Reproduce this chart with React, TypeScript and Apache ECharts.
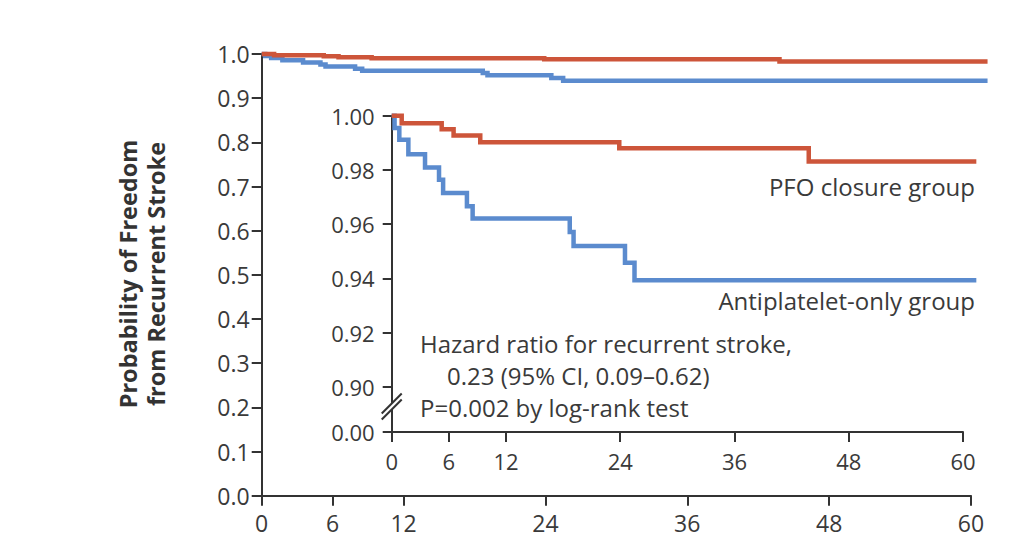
import React, { useEffect, useRef } from "react";
import * as echarts from "echarts";

// ---- data ----
const monthTicks = [0, 6, 12, 24, 36, 48, 60];
const insetYTicks = [0.8834, 0.9, 0.92, 0.94, 0.96, 0.98, 1.0];
const insetYLabels = ["0.00", "0.90", "0.92", "0.94", "0.96", "0.98", "1.00"];

const pfoMonths = [0, 1.05, 5.25, 6.5, 9.3, 23.9, 43.8, 61.4];
const pfoSurvival = [1.0, 0.9972, 0.995, 0.9927, 0.9902, 0.988, 0.9831, 0.9831];

const antiMonths = [0, 0.3, 0.8, 1.75, 3.5, 4.97, 5.4, 7.9, 8.5, 18.7, 19.1, 24.5, 25.5, 61.4];
const antiSurvival = [1.0, 0.9955, 0.9911, 0.9858, 0.9809, 0.9764, 0.9715, 0.9666, 0.9621, 0.9571, 0.952, 0.9458, 0.9393, 0.9393];

const yTitleLines = ["Probability of Freedom", "from Recurrent Stroke"];
const pfoLabel = "PFO closure group";
const antiLabel = "Antiplatelet-only group";
const statLines = [
  "Hazard ratio for recurrent stroke,",
  "0.23 (95% CI, 0.09\u20130.62)",
  "P=0.002 by log-rank test",
];

const RED = "#CD553A";
const BLUE = "#5B8BCE";
const AXIS = "#333333";
const TEXT = "#3a3a3a";
const FONT = "'Open Sans', 'Noto Sans', sans-serif";

const zip = (xs: number[], ys: number[]) => xs.map((x, i) => [x, ys[i]]);

export default function App() {
  const ref = useRef<HTMLDivElement>(null);

  useEffect(() => {
    if (!ref.current) return;
    const chart = echarts.init(ref.current, undefined, { renderer: "svg" });

    const axisLine = { show: true, lineStyle: { color: AXIS, width: 2 } };
    const tickStyle = { color: AXIS, width: 2 };
    const labelBase = { color: TEXT, fontFamily: FONT, fontSize: 23 };
    const axisMax = 60;
    const dataMax = Math.max(pfoMonths[pfoMonths.length - 1], antiMonths[antiMonths.length - 1]);

    const mainGrid = { left: 261.7, top: 54, width: 709.3, height: 441.7 };
    const insetGrid = { left: 391.7, top: 115.7, width: 571.3, height: 316.3 };
    // curve grids share the same scale but extend past month 60 so the tails are not clipped
    const widen = (g: any) => ({ ...g, width: (g.width * dataMax) / axisMax });

    const hiddenX = (gi: number) => ({
      type: "value",
      gridIndex: gi,
      min: 0,
      max: dataMax,
      show: false,
    });

    const lineSeries = (name: string, data: number[][], color: string, gi: number, z: number) => ({
      name,
      type: "line",
      xAxisIndex: gi,
      yAxisIndex: gi,
      data,
      step: "end",
      symbol: "none",
      clip: false,
      z,
      lineStyle: { color, width: 4.5, cap: "butt", join: "miter" },
    });

    chart.setOption({
      animation: false,
      backgroundColor: "#ffffff",
      grid: [mainGrid, insetGrid, widen(mainGrid), widen(insetGrid)],
      xAxis: [
        {
          type: "value",
          gridIndex: 0,
          min: 0,
          max: axisMax,
          axisLine,
          splitLine: { show: false },
          axisTick: { show: true, length: 10, customValues: monthTicks, lineStyle: tickStyle },
          axisLabel: { ...labelBase, customValues: monthTicks, margin: 16 },
        },
        {
          type: "value",
          gridIndex: 1,
          min: 0,
          max: axisMax,
          axisLine,
          splitLine: { show: false },
          axisTick: { show: true, length: 10, customValues: monthTicks, lineStyle: tickStyle },
          axisLabel: { ...labelBase, fontSize: 22, customValues: monthTicks, margin: 18 },
        },
        hiddenX(2),
        hiddenX(3),
      ],
      yAxis: [
        {
          type: "value",
          gridIndex: 0,
          min: 0,
          max: 1,
          interval: 0.1,
          axisLine,
          splitLine: { show: false },
          axisTick: { show: true, length: 10, lineStyle: tickStyle },
          axisLabel: { ...labelBase, margin: 12, formatter: (v: number) => v.toFixed(1) },
        },
        {
          type: "value",
          gridIndex: 1,
          min: insetYTicks[0],
          max: 1,
          axisLine,
          splitLine: { show: false },
          axisTick: { show: true, length: 9, customValues: insetYTicks, lineStyle: tickStyle },
          axisLabel: {
            ...labelBase,
            fontSize: 22,
            margin: 17,
            customValues: insetYTicks,
            formatter: (v: number) => {
              const i = insetYTicks.findIndex((t) => Math.abs(t - v) < 1e-6);
              return i >= 0 ? insetYLabels[i] : "";
            },
          },
        },
        { type: "value", gridIndex: 2, min: 0, max: 1, show: false },
        { type: "value", gridIndex: 3, min: insetYTicks[0], max: 1, show: false },
      ],
      series: [
        lineSeries("Antiplatelet-only group", zip(antiMonths, antiSurvival), BLUE, 2, 2),
        lineSeries("PFO closure group", zip(pfoMonths, pfoSurvival), RED, 2, 3),
        lineSeries("Antiplatelet-only group (inset)", zip(antiMonths, antiSurvival), BLUE, 3, 2),
        lineSeries("PFO closure group (inset)", zip(pfoMonths, pfoSurvival), RED, 3, 3),
      ],
    });

    // axis-break marks positioned from the inset scale
    const p90 = chart.convertToPixel({ xAxisIndex: 1, yAxisIndex: 1 }, [0, 0.9]) as number[];
    const p0 = chart.convertToPixel({ xAxisIndex: 1, yAxisIndex: 1 }, [0, insetYTicks[0]]) as number[];
    const cx = p0[0];
    const cy = (p90[1] + p0[1]) / 2 - 3;
    const dx = 10;
    const dy = 10;
    const gap = 3;

    const textStyle = (extra: any) => ({ fill: TEXT, fontFamily: FONT, fontSize: 24, ...extra });

    chart.setOption({
      graphic: [
        {
          type: "polygon",
          z: 100,
          shape: {
            points: [
              [cx - dx, cy + dy - gap],
              [cx + dx, cy - dy - gap],
              [cx + dx, cy - dy + gap],
              [cx - dx, cy + dy + gap],
            ],
          },
          style: { fill: "#ffffff" },
        },
        {
          type: "line",
          z: 101,
          shape: { x1: cx - dx, y1: cy + dy - gap, x2: cx + dx, y2: cy - dy - gap },
          style: { stroke: AXIS, lineWidth: 2 },
        },
        {
          type: "line",
          z: 101,
          shape: { x1: cx - dx, y1: cy + dy + gap, x2: cx + dx, y2: cy - dy + gap },
          style: { stroke: AXIS, lineWidth: 2 },
        },
        {
          type: "text",
          x: 142,
          y: 274,
          rotation: Math.PI / 2,
          style: textStyle({
            text: yTitleLines.join("\n"),
            fontWeight: "bold",
            fontSize: 23.5,
            lineHeight: 28,
            align: "center",
            verticalAlign: "middle",
            fill: "#333333",
          }),
        },
        {
          type: "text",
          x: 975,
          y: 186,
          style: textStyle({ text: pfoLabel, align: "right", verticalAlign: "middle" }),
        },
        {
          type: "text",
          x: 975,
          y: 300,
          style: textStyle({ text: antiLabel, align: "right", verticalAlign: "middle" }),
        },
        {
          type: "text",
          x: 420,
          y: 343,
          style: textStyle({ text: statLines[0], align: "left", verticalAlign: "middle" }),
        },
        {
          type: "text",
          x: 447,
          y: 375,
          style: textStyle({ text: statLines[1], align: "left", verticalAlign: "middle" }),
        },
        {
          type: "text",
          x: 420,
          y: 407,
          style: textStyle({ text: statLines[2], align: "left", verticalAlign: "middle" }),
        },
      ],
    });

    return () => chart.dispose();
  }, []);

  return (
    <div
      ref={ref}
      style={{ position: "fixed", left: 0, top: 0, width: 1019, height: 540, background: "#ffffff" }}
    />
  );
}
